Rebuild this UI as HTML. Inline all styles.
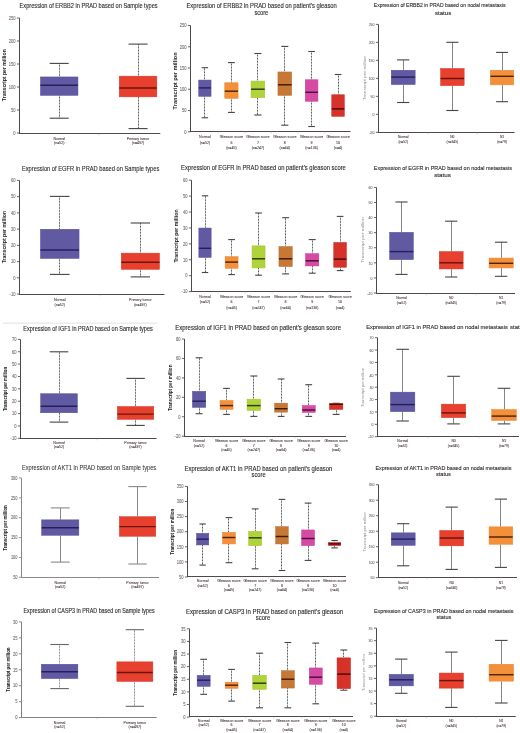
<!DOCTYPE html>
<html><head><meta charset="utf-8"><title>Expression boxplots</title><style>
html,body{margin:0;padding:0;background:#fff;}
#w{position:relative;width:520px;height:733px;overflow:hidden;background:#fff;}
svg{position:absolute;left:0;top:0;filter:blur(0.25px);}
text{font-family:"Liberation Sans", sans-serif;}
.tt{fill:#2a2a2a;stroke:#2a2a2a;stroke-width:0.12px;}
.tm{fill:#303030;stroke:#303030;stroke-width:0.04px;}
.tn{fill:#2e2828;stroke:#2e2828;stroke-width:0.12px;}
.tl{fill:#7a6a70;text-anchor:end;stroke:#7a6a70;stroke-width:0.1px;}
.xl{fill:#4a3a42;text-anchor:middle;stroke:#4a3a42;stroke-width:0.08px;}
.yb{fill:#1a1a1a;font-weight:bold;text-anchor:middle;}
.yr{fill:#333;text-anchor:middle;stroke:#333;stroke-width:0.1px;}
.yn{fill:#9a9090;text-anchor:middle;}
.ax{stroke:#4a4a4a;stroke-width:1.05;}
.tk{stroke:#555;stroke-width:0.9;}
.sep{stroke:#aaa;stroke-width:0.5;}
.wh{stroke:#3a3a3a;stroke-width:1;stroke-dasharray:0.8 0.7;}
.ws{stroke:#666;stroke-width:0.8;}
.cap{stroke:#444;stroke-width:1.1;}
.bx{stroke-width:0.5;}
.md{stroke-width:1.45;}
.lite .ax{stroke:#8a8a8a;stroke-width:1;} .lite .tk{stroke:#8a8a8a;} .lite .cap{stroke:#8a8a8a;} .lite .ws{stroke:#555;stroke-width:0.7;}
.lite2 .ax{stroke:#808080;stroke-width:1;} .lite2 .tk{stroke:#808080;} .lite2 .cap{stroke:#666;} .lite2 .wh{stroke:#555;stroke-width:0.8;}
</style></head>
<body><div id="w"><svg width="520" height="733" viewBox="0 0 520 733">
<line x1="3" y1="323.1" x2="157" y2="323.1" stroke="#d4d4d4" stroke-width="0.7"/>
<g class=""><text x="19.6" y="8.4" class="tt" style="font-size:7.7px" textLength="138.0" lengthAdjust="spacingAndGlyphs">Expression of ERBB2 in PRAD based on Sample types</text>
<line x1="19.5" y1="18.0" x2="19.5" y2="134.0" class="ax"/>
<line x1="16.9" y1="18.0" x2="19.5" y2="18.0" class="tk"/>
<text transform="translate(15.50,19.75) scale(0.82 1)" class="tl" style="font-size:5.0px">250</text>
<line x1="16.9" y1="41.0" x2="19.5" y2="41.0" class="tk"/>
<text transform="translate(15.50,42.75) scale(0.82 1)" class="tl" style="font-size:5.0px">200</text>
<line x1="16.9" y1="64.0" x2="19.5" y2="64.0" class="tk"/>
<text transform="translate(15.50,65.75) scale(0.82 1)" class="tl" style="font-size:5.0px">150</text>
<line x1="16.9" y1="87.0" x2="19.5" y2="87.0" class="tk"/>
<text transform="translate(15.50,88.75) scale(0.82 1)" class="tl" style="font-size:5.0px">100</text>
<line x1="16.9" y1="110.0" x2="19.5" y2="110.0" class="tk"/>
<text transform="translate(15.50,111.75) scale(0.82 1)" class="tl" style="font-size:5.0px">50</text>
<line x1="16.9" y1="133.0" x2="19.5" y2="133.0" class="tk"/>
<text transform="translate(15.50,134.75) scale(0.82 1)" class="tl" style="font-size:5.0px">0</text>
<line x1="19.0" y1="133.5" x2="160.3" y2="133.5" class="ax"/>
<line x1="98.62" y1="133.5" x2="98.62" y2="135.3" class="sep"/>
<line x1="59.50" y1="63.40" x2="59.50" y2="76.70" class="wh"/>
<line x1="49.70" y1="63.40" x2="68.70" y2="63.40" class="cap"/>
<line x1="59.50" y1="95.60" x2="59.50" y2="118.20" class="wh"/>
<line x1="49.70" y1="118.20" x2="68.70" y2="118.20" class="cap"/>
<rect x="40.45" y="76.95" width="37.50" height="18.40" fill="#615aa2" stroke="#554d9c" class="bx"/>
<line x1="40.50" y1="85.30" x2="77.90" y2="85.30" stroke="#261f5e" class="md"/>
<line x1="138.50" y1="44.10" x2="138.50" y2="75.90" class="wh"/>
<line x1="128.53" y1="44.10" x2="147.58" y2="44.10" class="cap"/>
<line x1="138.50" y1="97.10" x2="138.50" y2="128.60" class="wh"/>
<line x1="128.53" y1="128.60" x2="147.58" y2="128.60" class="cap"/>
<rect x="119.25" y="76.15" width="37.60" height="20.70" fill="#e8402e" stroke="#d8382a" class="bx"/>
<line x1="119.30" y1="87.90" x2="156.80" y2="87.90" stroke="#6a140c" class="md"/>
<text x="59.20" y="139.50" class="xl" style="font-size:3.6px">Normal</text>
<text x="59.20" y="144.40" class="xl" style="font-size:3.6px">(n=52)</text>
<text x="138.05" y="139.50" class="xl" style="font-size:3.6px">Primary tumor</text>
<text x="138.05" y="144.40" class="xl" style="font-size:3.6px">(n=497)</text>
<text transform="translate(5.7,75.2) rotate(-90)" x="0" y="0" class="yb" style="font-size:5.3px" textLength="52" lengthAdjust="spacingAndGlyphs">Transcript per million</text></g>
<g class=""><text x="186.5" y="7.7" class="tt" style="font-size:7.1px" textLength="150.3" lengthAdjust="spacingAndGlyphs">Expression of ERBB2 in PRAD based on patient's gleason</text>
<text x="254.4" y="15.3" class="tt" style="font-size:7.1px" textLength="13.9" lengthAdjust="spacingAndGlyphs">score</text>
<line x1="190.5" y1="25.5" x2="190.5" y2="132.0" class="ax"/>
<line x1="187.9" y1="25.5" x2="190.5" y2="25.5" class="tk"/>
<text transform="translate(186.50,27.25) scale(0.82 1)" class="tl" style="font-size:5.0px">250</text>
<line x1="187.9" y1="46.76" x2="190.5" y2="46.76" class="tk"/>
<text transform="translate(186.50,48.51) scale(0.82 1)" class="tl" style="font-size:5.0px">200</text>
<line x1="187.9" y1="68.02" x2="190.5" y2="68.02" class="tk"/>
<text transform="translate(186.50,69.77) scale(0.82 1)" class="tl" style="font-size:5.0px">150</text>
<line x1="187.9" y1="89.28" x2="190.5" y2="89.28" class="tk"/>
<text transform="translate(186.50,91.03) scale(0.82 1)" class="tl" style="font-size:5.0px">100</text>
<line x1="187.9" y1="110.54" x2="190.5" y2="110.54" class="tk"/>
<text transform="translate(186.50,112.29) scale(0.82 1)" class="tl" style="font-size:5.0px">50</text>
<line x1="187.9" y1="131.8" x2="190.5" y2="131.8" class="tk"/>
<text transform="translate(186.50,133.55) scale(0.82 1)" class="tl" style="font-size:5.0px">0</text>
<line x1="190.0" y1="131.5" x2="350.6" y2="131.5" class="ax"/>
<line x1="218.15" y1="131.5" x2="218.15" y2="133.3" class="sep"/>
<line x1="244.65" y1="131.5" x2="244.65" y2="133.3" class="sep"/>
<line x1="271.35" y1="131.5" x2="271.35" y2="133.3" class="sep"/>
<line x1="298.20" y1="131.5" x2="298.20" y2="133.3" class="sep"/>
<line x1="324.83" y1="131.5" x2="324.83" y2="133.3" class="sep"/>
<line x1="204.50" y1="67.70" x2="204.50" y2="79.80" class="wh"/>
<line x1="201.70" y1="67.70" x2="208.10" y2="67.70" class="cap"/>
<line x1="204.50" y1="96.60" x2="204.50" y2="117.80" class="wh"/>
<line x1="201.70" y1="117.80" x2="208.10" y2="117.80" class="cap"/>
<rect x="198.75" y="80.05" width="12.30" height="16.30" fill="#615aa2" stroke="#554d9c" class="bx"/>
<line x1="198.80" y1="87.90" x2="211.00" y2="87.90" stroke="#261f5e" class="md"/>
<line x1="231.50" y1="62.60" x2="231.50" y2="82.50" class="wh"/>
<line x1="227.95" y1="62.60" x2="234.85" y2="62.60" class="cap"/>
<line x1="231.50" y1="98.60" x2="231.50" y2="112.40" class="wh"/>
<line x1="227.95" y1="112.40" x2="234.85" y2="112.40" class="cap"/>
<rect x="224.75" y="82.75" width="13.30" height="15.60" fill="#f5903a" stroke="#e88430" class="bx"/>
<line x1="224.80" y1="91.20" x2="238.00" y2="91.20" stroke="#4a2508" class="md"/>
<line x1="257.50" y1="53.50" x2="257.50" y2="80.80" class="wh"/>
<line x1="254.35" y1="53.50" x2="261.45" y2="53.50" class="cap"/>
<line x1="257.50" y1="98.00" x2="257.50" y2="115.00" class="wh"/>
<line x1="254.35" y1="115.00" x2="261.45" y2="115.00" class="cap"/>
<rect x="251.05" y="81.05" width="13.70" height="16.70" fill="#b0d33a" stroke="#a2c430" class="bx"/>
<line x1="251.10" y1="89.20" x2="264.70" y2="89.20" stroke="#2c3a08" class="md"/>
<line x1="284.50" y1="46.40" x2="284.50" y2="71.70" class="wh"/>
<line x1="281.25" y1="46.40" x2="288.35" y2="46.40" class="cap"/>
<line x1="284.50" y1="95.60" x2="284.50" y2="125.20" class="wh"/>
<line x1="281.25" y1="125.20" x2="288.35" y2="125.20" class="cap"/>
<rect x="277.95" y="71.95" width="13.70" height="23.40" fill="#c77835" stroke="#b86c2c" class="bx"/>
<line x1="278.00" y1="84.80" x2="291.60" y2="84.80" stroke="#3a1c08" class="md"/>
<line x1="311.50" y1="51.50" x2="311.50" y2="79.50" class="wh"/>
<line x1="308.30" y1="51.50" x2="314.90" y2="51.50" class="cap"/>
<line x1="311.50" y1="101.50" x2="311.50" y2="126.50" class="wh"/>
<line x1="308.30" y1="126.50" x2="314.90" y2="126.50" class="cap"/>
<rect x="305.25" y="79.75" width="12.70" height="21.50" fill="#d64aa4" stroke="#c8409a" class="bx"/>
<line x1="305.30" y1="92.30" x2="317.90" y2="92.30" stroke="#4a1034" class="md"/>
<line x1="338.50" y1="74.50" x2="338.50" y2="94.50" class="wh"/>
<line x1="334.77" y1="74.50" x2="341.33" y2="74.50" class="cap"/>
<rect x="331.75" y="94.75" width="12.60" height="21.60" fill="#d6322a" stroke="#c82c24" class="bx"/>
<line x1="331.80" y1="108.90" x2="344.30" y2="108.90" stroke="#4a0a08" class="md"/>
<text x="204.90" y="138.00" class="xl" style="font-size:3.6px">Normal</text>
<text x="204.90" y="143.50" class="xl" style="font-size:3.6px">(n=52)</text>
<text x="231.40" y="138.00" class="xl" style="font-size:3.6px">Gleason score</text>
<text x="231.40" y="143.50" class="xl" style="font-size:3.6px">6</text>
<text x="231.40" y="148.70" class="xl" style="font-size:3.6px">(n=45)</text>
<text x="257.90" y="138.00" class="xl" style="font-size:3.6px">Gleason score</text>
<text x="257.90" y="143.50" class="xl" style="font-size:3.6px">7</text>
<text x="257.90" y="148.70" class="xl" style="font-size:3.6px">(n=247)</text>
<text x="284.80" y="138.00" class="xl" style="font-size:3.6px">Gleason score</text>
<text x="284.80" y="143.50" class="xl" style="font-size:3.6px">8</text>
<text x="284.80" y="148.70" class="xl" style="font-size:3.6px">(n=64)</text>
<text x="311.60" y="138.00" class="xl" style="font-size:3.6px">Gleason score</text>
<text x="311.60" y="143.50" class="xl" style="font-size:3.6px">9</text>
<text x="311.60" y="148.70" class="xl" style="font-size:3.6px">(n=136)</text>
<text x="338.05" y="138.00" class="xl" style="font-size:3.6px">Gleason score</text>
<text x="338.05" y="143.50" class="xl" style="font-size:3.6px">10</text>
<text x="338.05" y="148.70" class="xl" style="font-size:3.6px">(n=4)</text>
<text transform="translate(177.3,80.9) rotate(-90)" x="0" y="0" class="yb" style="font-size:5.6px" textLength="57" lengthAdjust="spacingAndGlyphs">Transcript per million</text></g>
<g class=""><text x="373.8" y="6.9" class="tn" style="font-size:6.0px" textLength="131.8" lengthAdjust="spacingAndGlyphs">Expression of ERBB2 in PRAD based on nodal metastasis</text>
<text x="435" y="14.6" class="tn" style="font-size:6.0px" textLength="16.2" lengthAdjust="spacingAndGlyphs">status</text>
<line x1="378.5" y1="24.4" x2="378.5" y2="133.0" class="ax"/>
<line x1="375.9" y1="24.4" x2="378.5" y2="24.4" class="tk"/>
<text transform="translate(374.50,26.15) scale(0.82 1)" class="tl" style="font-size:4.3px">250</text>
<line x1="375.9" y1="42.38" x2="378.5" y2="42.38" class="tk"/>
<text transform="translate(374.50,44.13) scale(0.82 1)" class="tl" style="font-size:4.3px">200</text>
<line x1="375.9" y1="60.37" x2="378.5" y2="60.37" class="tk"/>
<text transform="translate(374.50,62.12) scale(0.82 1)" class="tl" style="font-size:4.3px">150</text>
<line x1="375.9" y1="78.35" x2="378.5" y2="78.35" class="tk"/>
<text transform="translate(374.50,80.10) scale(0.82 1)" class="tl" style="font-size:4.3px">100</text>
<line x1="375.9" y1="96.33" x2="378.5" y2="96.33" class="tk"/>
<text transform="translate(374.50,98.08) scale(0.82 1)" class="tl" style="font-size:4.3px">50</text>
<line x1="375.9" y1="114.32" x2="378.5" y2="114.32" class="tk"/>
<text transform="translate(374.50,116.07) scale(0.82 1)" class="tl" style="font-size:4.3px">0</text>
<line x1="375.9" y1="132.3" x2="378.5" y2="132.3" class="tk"/>
<text transform="translate(374.50,134.05) scale(0.82 1)" class="tl" style="font-size:4.3px">-50</text>
<line x1="378.0" y1="132.5" x2="514.5" y2="132.5" class="ax"/>
<line x1="427.77" y1="132.5" x2="427.77" y2="134.3" class="sep"/>
<line x1="477.20" y1="132.5" x2="477.20" y2="134.3" class="sep"/>
<line x1="403.50" y1="59.90" x2="403.50" y2="70.00" class="ws"/>
<line x1="397.10" y1="59.90" x2="409.30" y2="59.90" class="cap"/>
<line x1="403.50" y1="84.80" x2="403.50" y2="102.50" class="ws"/>
<line x1="397.10" y1="102.50" x2="409.30" y2="102.50" class="cap"/>
<rect x="391.25" y="70.25" width="23.90" height="14.30" fill="#615aa2" stroke="#554d9c" class="bx"/>
<line x1="391.30" y1="77.10" x2="415.10" y2="77.10" stroke="#261f5e" class="md"/>
<line x1="452.50" y1="42.30" x2="452.50" y2="68.20" class="ws"/>
<line x1="446.33" y1="42.30" x2="458.38" y2="42.30" class="cap"/>
<line x1="452.50" y1="85.90" x2="452.50" y2="110.50" class="ws"/>
<line x1="446.33" y1="110.50" x2="458.38" y2="110.50" class="cap"/>
<rect x="440.55" y="68.45" width="23.60" height="17.20" fill="#e8402e" stroke="#d8382a" class="bx"/>
<line x1="440.60" y1="78.50" x2="464.10" y2="78.50" stroke="#6a140c" class="md"/>
<line x1="502.50" y1="52.40" x2="502.50" y2="70.00" class="ws"/>
<line x1="496.08" y1="52.40" x2="508.02" y2="52.40" class="cap"/>
<line x1="502.50" y1="85.10" x2="502.50" y2="101.70" class="ws"/>
<line x1="496.08" y1="101.70" x2="508.02" y2="101.70" class="cap"/>
<rect x="490.35" y="70.25" width="23.40" height="14.60" fill="#f5903a" stroke="#e88430" class="bx"/>
<line x1="490.40" y1="76.30" x2="513.70" y2="76.30" stroke="#4a2508" class="md"/>
<text x="403.20" y="137.90" class="xl" style="font-size:3.3px">Normal</text>
<text x="403.20" y="143.10" class="xl" style="font-size:3.3px">(n=52)</text>
<text x="452.35" y="137.90" class="xl" style="font-size:3.3px">N0</text>
<text x="452.35" y="143.10" class="xl" style="font-size:3.3px">(n=345)</text>
<text x="502.05" y="137.90" class="xl" style="font-size:3.3px">N1</text>
<text x="502.05" y="143.10" class="xl" style="font-size:3.3px">(n=79)</text>
<text transform="translate(366,78.1) rotate(-90)" x="0" y="0" class="yn" style="font-size:4.2px" textLength="44.4" lengthAdjust="spacingAndGlyphs">Transcript per million</text></g>
<g class=""><text x="21.9" y="170.6" class="tt" style="font-size:7.7px" textLength="137.4" lengthAdjust="spacingAndGlyphs">Expression of EGFR in PRAD based on Sample types</text>
<line x1="19.5" y1="180.4" x2="19.5" y2="295.0" class="ax"/>
<line x1="16.9" y1="180.4" x2="19.5" y2="180.4" class="tk"/>
<text transform="translate(15.50,182.15) scale(0.82 1)" class="tl" style="font-size:5.0px">60</text>
<line x1="16.9" y1="196.64" x2="19.5" y2="196.64" class="tk"/>
<text transform="translate(15.50,198.39) scale(0.82 1)" class="tl" style="font-size:5.0px">50</text>
<line x1="16.9" y1="212.89" x2="19.5" y2="212.89" class="tk"/>
<text transform="translate(15.50,214.64) scale(0.82 1)" class="tl" style="font-size:5.0px">40</text>
<line x1="16.9" y1="229.13" x2="19.5" y2="229.13" class="tk"/>
<text transform="translate(15.50,230.88) scale(0.82 1)" class="tl" style="font-size:5.0px">30</text>
<line x1="16.9" y1="245.37" x2="19.5" y2="245.37" class="tk"/>
<text transform="translate(15.50,247.12) scale(0.82 1)" class="tl" style="font-size:5.0px">20</text>
<line x1="16.9" y1="261.61" x2="19.5" y2="261.61" class="tk"/>
<text transform="translate(15.50,263.36) scale(0.82 1)" class="tl" style="font-size:5.0px">10</text>
<line x1="16.9" y1="277.86" x2="19.5" y2="277.86" class="tk"/>
<text transform="translate(15.50,279.61) scale(0.82 1)" class="tl" style="font-size:5.0px">0</text>
<line x1="16.9" y1="294.1" x2="19.5" y2="294.1" class="tk"/>
<text transform="translate(15.50,295.85) scale(0.82 1)" class="tl" style="font-size:5.0px">-10</text>
<line x1="19.0" y1="294.5" x2="164.4" y2="294.5" class="ax"/>
<line x1="100.06" y1="294.5" x2="100.06" y2="296.3" class="sep"/>
<line x1="59.50" y1="196.40" x2="59.50" y2="229.00" class="wh"/>
<line x1="49.98" y1="196.40" x2="69.53" y2="196.40" class="cap"/>
<line x1="59.50" y1="258.70" x2="59.50" y2="274.40" class="wh"/>
<line x1="49.98" y1="274.40" x2="69.53" y2="274.40" class="cap"/>
<rect x="40.45" y="229.25" width="38.60" height="29.20" fill="#615aa2" stroke="#554d9c" class="bx"/>
<line x1="40.50" y1="249.90" x2="79.00" y2="249.90" stroke="#261f5e" class="md"/>
<line x1="140.50" y1="223.00" x2="140.50" y2="252.90" class="wh"/>
<line x1="130.69" y1="223.00" x2="150.06" y2="223.00" class="cap"/>
<line x1="140.50" y1="269.60" x2="140.50" y2="276.90" class="wh"/>
<line x1="130.69" y1="276.90" x2="150.06" y2="276.90" class="cap"/>
<rect x="121.25" y="253.15" width="38.25" height="16.20" fill="#e8402e" stroke="#d8382a" class="bx"/>
<line x1="121.30" y1="262.25" x2="159.45" y2="262.25" stroke="#6a140c" class="md"/>
<text x="59.75" y="301.00" class="xl" style="font-size:3.6px">Normal</text>
<text x="59.75" y="305.60" class="xl" style="font-size:3.6px">(n=52)</text>
<text x="140.38" y="301.00" class="xl" style="font-size:3.6px">Primary tumor</text>
<text x="140.38" y="305.60" class="xl" style="font-size:3.6px">(n=497)</text>
<text transform="translate(6.0,237.1) rotate(-90)" x="0" y="0" class="yb" style="font-size:5.3px" textLength="52.4" lengthAdjust="spacingAndGlyphs">Transcript per million</text></g>
<g class=""><text x="181.1" y="170.1" class="tt" style="font-size:7.5px" textLength="164.8" lengthAdjust="spacingAndGlyphs">Expression of EGFR in PRAD based on patient's gleason score</text>
<line x1="191.5" y1="180.2" x2="191.5" y2="292.0" class="ax"/>
<line x1="188.9" y1="180.2" x2="191.5" y2="180.2" class="tk"/>
<text transform="translate(187.50,181.95) scale(0.82 1)" class="tl" style="font-size:5.0px">60</text>
<line x1="188.9" y1="196.11" x2="191.5" y2="196.11" class="tk"/>
<text transform="translate(187.50,197.86) scale(0.82 1)" class="tl" style="font-size:5.0px">50</text>
<line x1="188.9" y1="212.03" x2="191.5" y2="212.03" class="tk"/>
<text transform="translate(187.50,213.78) scale(0.82 1)" class="tl" style="font-size:5.0px">40</text>
<line x1="188.9" y1="227.94" x2="191.5" y2="227.94" class="tk"/>
<text transform="translate(187.50,229.69) scale(0.82 1)" class="tl" style="font-size:5.0px">30</text>
<line x1="188.9" y1="243.86" x2="191.5" y2="243.86" class="tk"/>
<text transform="translate(187.50,245.61) scale(0.82 1)" class="tl" style="font-size:5.0px">20</text>
<line x1="188.9" y1="259.77" x2="191.5" y2="259.77" class="tk"/>
<text transform="translate(187.50,261.52) scale(0.82 1)" class="tl" style="font-size:5.0px">10</text>
<line x1="188.9" y1="275.69" x2="191.5" y2="275.69" class="tk"/>
<text transform="translate(187.50,277.44) scale(0.82 1)" class="tl" style="font-size:5.0px">0</text>
<line x1="188.9" y1="291.6" x2="191.5" y2="291.6" class="tk"/>
<text transform="translate(187.50,293.35) scale(0.82 1)" class="tl" style="font-size:5.0px">-10</text>
<line x1="191.0" y1="291.5" x2="350.8" y2="291.5" class="ax"/>
<line x1="218.30" y1="291.5" x2="218.30" y2="293.3" class="sep"/>
<line x1="245.08" y1="291.5" x2="245.08" y2="293.3" class="sep"/>
<line x1="272.08" y1="291.5" x2="272.08" y2="293.3" class="sep"/>
<line x1="298.90" y1="291.5" x2="298.90" y2="293.3" class="sep"/>
<line x1="326.15" y1="291.5" x2="326.15" y2="293.3" class="sep"/>
<line x1="205.50" y1="195.80" x2="205.50" y2="227.80" class="wh"/>
<line x1="201.80" y1="195.80" x2="208.20" y2="195.80" class="cap"/>
<line x1="205.50" y1="257.70" x2="205.50" y2="272.50" class="wh"/>
<line x1="201.80" y1="272.50" x2="208.20" y2="272.50" class="cap"/>
<rect x="198.85" y="228.05" width="12.30" height="29.40" fill="#615aa2" stroke="#554d9c" class="bx"/>
<line x1="198.90" y1="248.30" x2="211.10" y2="248.30" stroke="#261f5e" class="md"/>
<line x1="231.50" y1="239.60" x2="231.50" y2="256.40" class="wh"/>
<line x1="228.25" y1="239.60" x2="234.95" y2="239.60" class="cap"/>
<line x1="231.50" y1="268.50" x2="231.50" y2="274.60" class="wh"/>
<line x1="228.25" y1="274.60" x2="234.95" y2="274.60" class="cap"/>
<rect x="225.15" y="256.65" width="12.90" height="11.60" fill="#f5903a" stroke="#e88430" class="bx"/>
<line x1="225.20" y1="262.10" x2="238.00" y2="262.10" stroke="#4a2508" class="md"/>
<line x1="258.50" y1="213.00" x2="258.50" y2="245.60" class="wh"/>
<line x1="255.18" y1="213.00" x2="261.93" y2="213.00" class="cap"/>
<line x1="258.50" y1="268.20" x2="258.50" y2="275.20" class="wh"/>
<line x1="255.18" y1="275.20" x2="261.93" y2="275.20" class="cap"/>
<rect x="252.05" y="245.85" width="13.00" height="22.10" fill="#b0d33a" stroke="#a2c430" class="bx"/>
<line x1="252.10" y1="258.80" x2="265.00" y2="258.80" stroke="#2c3a08" class="md"/>
<line x1="285.50" y1="217.70" x2="285.50" y2="246.30" class="wh"/>
<line x1="282.15" y1="217.70" x2="289.05" y2="217.70" class="cap"/>
<line x1="285.50" y1="266.80" x2="285.50" y2="273.90" class="wh"/>
<line x1="282.15" y1="273.90" x2="289.05" y2="273.90" class="cap"/>
<rect x="278.95" y="246.55" width="13.30" height="20.00" fill="#c77835" stroke="#b86c2c" class="bx"/>
<line x1="279.00" y1="258.80" x2="292.20" y2="258.80" stroke="#3a1c08" class="md"/>
<line x1="312.50" y1="239.60" x2="312.50" y2="253.40" class="wh"/>
<line x1="308.75" y1="239.60" x2="315.65" y2="239.60" class="cap"/>
<line x1="312.50" y1="266.20" x2="312.50" y2="273.20" class="wh"/>
<line x1="308.75" y1="273.20" x2="315.65" y2="273.20" class="cap"/>
<rect x="305.55" y="253.65" width="13.30" height="12.30" fill="#d64aa4" stroke="#c8409a" class="bx"/>
<line x1="305.60" y1="260.80" x2="318.80" y2="260.80" stroke="#4a1034" class="md"/>
<line x1="340.50" y1="216.40" x2="340.50" y2="242.20" class="wh"/>
<line x1="336.80" y1="216.40" x2="343.40" y2="216.40" class="cap"/>
<line x1="340.50" y1="267.50" x2="340.50" y2="270.60" class="wh"/>
<line x1="336.80" y1="270.60" x2="343.40" y2="270.60" class="cap"/>
<rect x="333.75" y="242.45" width="12.70" height="24.80" fill="#d6322a" stroke="#c82c24" class="bx"/>
<line x1="333.80" y1="259.10" x2="346.40" y2="259.10" stroke="#4a0a08" class="md"/>
<text x="205.00" y="298.20" class="xl" style="font-size:3.6px">Normal</text>
<text x="205.00" y="303.40" class="xl" style="font-size:3.6px">(n=52)</text>
<text x="231.60" y="298.20" class="xl" style="font-size:3.6px">Gleason score</text>
<text x="231.60" y="303.40" class="xl" style="font-size:3.6px">6</text>
<text x="231.60" y="308.50" class="xl" style="font-size:3.6px">(n=45)</text>
<text x="258.55" y="298.20" class="xl" style="font-size:3.6px">Gleason score</text>
<text x="258.55" y="303.40" class="xl" style="font-size:3.6px">7</text>
<text x="258.55" y="308.50" class="xl" style="font-size:3.6px">(n=247)</text>
<text x="285.60" y="298.20" class="xl" style="font-size:3.6px">Gleason score</text>
<text x="285.60" y="303.40" class="xl" style="font-size:3.6px">8</text>
<text x="285.60" y="308.50" class="xl" style="font-size:3.6px">(n=64)</text>
<text x="312.20" y="298.20" class="xl" style="font-size:3.6px">Gleason score</text>
<text x="312.20" y="303.40" class="xl" style="font-size:3.6px">9</text>
<text x="312.20" y="308.50" class="xl" style="font-size:3.6px">(n=136)</text>
<text x="340.10" y="298.20" class="xl" style="font-size:3.6px">Gleason score</text>
<text x="340.10" y="303.40" class="xl" style="font-size:3.6px">10</text>
<text x="340.10" y="308.50" class="xl" style="font-size:3.6px">(n=4)</text>
<text transform="translate(178.3,236) rotate(-90)" x="0" y="0" class="yb" style="font-size:5.4px" textLength="53.2" lengthAdjust="spacingAndGlyphs">Transcript per million</text></g>
<g class=""><text x="373.8" y="169.6" class="tn" style="font-size:6.2px" textLength="138.2" lengthAdjust="spacingAndGlyphs">Expression of EGFR in PRAD based on nodal metastasis</text>
<text x="434.2" y="177.2" class="tn" style="font-size:6.2px" textLength="16.7" lengthAdjust="spacingAndGlyphs">status</text>
<line x1="376.5" y1="187.4" x2="376.5" y2="294.0" class="ax"/>
<line x1="373.9" y1="187.4" x2="376.5" y2="187.4" class="tk"/>
<text transform="translate(372.50,189.15) scale(0.82 1)" class="tl" style="font-size:4.3px">60</text>
<line x1="373.9" y1="202.49" x2="376.5" y2="202.49" class="tk"/>
<text transform="translate(372.50,204.24) scale(0.82 1)" class="tl" style="font-size:4.3px">50</text>
<line x1="373.9" y1="217.57" x2="376.5" y2="217.57" class="tk"/>
<text transform="translate(372.50,219.32) scale(0.82 1)" class="tl" style="font-size:4.3px">40</text>
<line x1="373.9" y1="232.66" x2="376.5" y2="232.66" class="tk"/>
<text transform="translate(372.50,234.41) scale(0.82 1)" class="tl" style="font-size:4.3px">30</text>
<line x1="373.9" y1="247.74" x2="376.5" y2="247.74" class="tk"/>
<text transform="translate(372.50,249.49) scale(0.82 1)" class="tl" style="font-size:4.3px">20</text>
<line x1="373.9" y1="262.83" x2="376.5" y2="262.83" class="tk"/>
<text transform="translate(372.50,264.58) scale(0.82 1)" class="tl" style="font-size:4.3px">10</text>
<line x1="373.9" y1="277.91" x2="376.5" y2="277.91" class="tk"/>
<text transform="translate(372.50,279.66) scale(0.82 1)" class="tl" style="font-size:4.3px">0</text>
<line x1="373.9" y1="293.0" x2="376.5" y2="293.0" class="tk"/>
<text transform="translate(372.50,294.75) scale(0.82 1)" class="tl" style="font-size:4.3px">-10</text>
<line x1="376.0" y1="293.5" x2="515" y2="293.5" class="ax"/>
<line x1="426.35" y1="293.5" x2="426.35" y2="295.3" class="sep"/>
<line x1="476.17" y1="293.5" x2="476.17" y2="295.3" class="sep"/>
<line x1="401.50" y1="202.00" x2="401.50" y2="232.10" class="ws"/>
<line x1="395.45" y1="202.00" x2="407.55" y2="202.00" class="cap"/>
<line x1="401.50" y1="259.90" x2="401.50" y2="274.40" class="ws"/>
<line x1="395.45" y1="274.40" x2="407.55" y2="274.40" class="cap"/>
<rect x="389.65" y="232.35" width="23.70" height="27.30" fill="#615aa2" stroke="#554d9c" class="bx"/>
<line x1="389.70" y1="251.60" x2="413.30" y2="251.60" stroke="#261f5e" class="md"/>
<line x1="451.50" y1="221.20" x2="451.50" y2="251.30" class="ws"/>
<line x1="445.10" y1="221.20" x2="457.30" y2="221.20" class="cap"/>
<line x1="451.50" y1="269.20" x2="451.50" y2="277.00" class="ws"/>
<line x1="445.10" y1="277.00" x2="457.30" y2="277.00" class="cap"/>
<rect x="439.25" y="251.55" width="23.90" height="17.40" fill="#e8402e" stroke="#d8382a" class="bx"/>
<line x1="439.30" y1="262.80" x2="463.10" y2="262.80" stroke="#6a140c" class="md"/>
<line x1="501.50" y1="242.20" x2="501.50" y2="257.80" class="ws"/>
<line x1="494.97" y1="242.20" x2="507.32" y2="242.20" class="cap"/>
<line x1="501.50" y1="268.20" x2="501.50" y2="276.30" class="ws"/>
<line x1="494.97" y1="276.30" x2="507.32" y2="276.30" class="cap"/>
<rect x="489.05" y="258.05" width="24.20" height="9.90" fill="#f5903a" stroke="#e88430" class="bx"/>
<line x1="489.10" y1="263.30" x2="513.20" y2="263.30" stroke="#4a2508" class="md"/>
<text x="401.50" y="298.70" class="xl" style="font-size:3.3px">Normal</text>
<text x="401.50" y="303.80" class="xl" style="font-size:3.3px">(n=52)</text>
<text x="451.20" y="298.70" class="xl" style="font-size:3.3px">N0</text>
<text x="451.20" y="303.80" class="xl" style="font-size:3.3px">(n=345)</text>
<text x="501.15" y="298.70" class="xl" style="font-size:3.3px">N1</text>
<text x="501.15" y="303.80" class="xl" style="font-size:3.3px">(n=79)</text>
<text transform="translate(364.3,240) rotate(-90)" x="0" y="0" class="yn" style="font-size:4.2px" textLength="45.4" lengthAdjust="spacingAndGlyphs">Transcript per million</text></g>
<g class=""><text x="23.3" y="330.9" class="tt" style="font-size:6.8px" textLength="129.5" lengthAdjust="spacingAndGlyphs">Expression of IGF1 in PRAD based on Sample types</text>
<line x1="20.5" y1="339.4" x2="20.5" y2="439.0" class="ax"/>
<line x1="17.9" y1="339.4" x2="20.5" y2="339.4" class="tk"/>
<text transform="translate(16.50,341.15) scale(0.82 1)" class="tl" style="font-size:5.0px">70</text>
<line x1="17.9" y1="351.76" x2="20.5" y2="351.76" class="tk"/>
<text transform="translate(16.50,353.51) scale(0.82 1)" class="tl" style="font-size:5.0px">60</text>
<line x1="17.9" y1="364.12" x2="20.5" y2="364.12" class="tk"/>
<text transform="translate(16.50,365.87) scale(0.82 1)" class="tl" style="font-size:5.0px">50</text>
<line x1="17.9" y1="376.49" x2="20.5" y2="376.49" class="tk"/>
<text transform="translate(16.50,378.24) scale(0.82 1)" class="tl" style="font-size:5.0px">40</text>
<line x1="17.9" y1="388.85" x2="20.5" y2="388.85" class="tk"/>
<text transform="translate(16.50,390.60) scale(0.82 1)" class="tl" style="font-size:5.0px">30</text>
<line x1="17.9" y1="401.21" x2="20.5" y2="401.21" class="tk"/>
<text transform="translate(16.50,402.96) scale(0.82 1)" class="tl" style="font-size:5.0px">20</text>
<line x1="17.9" y1="413.57" x2="20.5" y2="413.57" class="tk"/>
<text transform="translate(16.50,415.32) scale(0.82 1)" class="tl" style="font-size:5.0px">10</text>
<line x1="17.9" y1="425.94" x2="20.5" y2="425.94" class="tk"/>
<text transform="translate(16.50,427.69) scale(0.82 1)" class="tl" style="font-size:5.0px">0</text>
<line x1="17.9" y1="438.3" x2="20.5" y2="438.3" class="tk"/>
<text transform="translate(16.50,440.05) scale(0.82 1)" class="tl" style="font-size:5.0px">-10</text>
<line x1="20.0" y1="438.5" x2="156.6" y2="438.5" class="ax"/>
<line x1="97.28" y1="438.5" x2="97.28" y2="440.3" class="sep"/>
<line x1="59.50" y1="351.80" x2="59.50" y2="393.50" class="wh"/>
<line x1="49.70" y1="351.80" x2="68.30" y2="351.80" class="cap"/>
<line x1="59.50" y1="413.00" x2="59.50" y2="422.10" class="wh"/>
<line x1="49.70" y1="422.10" x2="68.30" y2="422.10" class="cap"/>
<rect x="40.65" y="393.75" width="36.70" height="19.00" fill="#615aa2" stroke="#554d9c" class="bx"/>
<line x1="40.70" y1="406.30" x2="77.30" y2="406.30" stroke="#261f5e" class="md"/>
<line x1="135.50" y1="378.40" x2="135.50" y2="406.25" class="wh"/>
<line x1="126.33" y1="378.40" x2="144.78" y2="378.40" class="cap"/>
<line x1="135.50" y1="419.60" x2="135.50" y2="425.40" class="wh"/>
<line x1="126.33" y1="425.40" x2="144.78" y2="425.40" class="cap"/>
<rect x="117.35" y="406.50" width="36.40" height="12.85" fill="#e8402e" stroke="#d8382a" class="bx"/>
<line x1="117.40" y1="414.10" x2="153.70" y2="414.10" stroke="#6a140c" class="md"/>
<text x="59.00" y="444.10" class="xl" style="font-size:3.6px">Normal</text>
<text x="59.00" y="448.40" class="xl" style="font-size:3.6px">(n=52)</text>
<text x="135.55" y="444.10" class="xl" style="font-size:3.6px">Primary tumor</text>
<text x="135.55" y="448.40" class="xl" style="font-size:3.6px">(n=497)</text>
<text transform="translate(7.1,389) rotate(-90)" x="0" y="0" class="yb" style="font-size:4.5px" textLength="44.2" lengthAdjust="spacingAndGlyphs">Transcript per million</text></g>
<g class=""><text x="175.2" y="329.8" class="tt" style="font-size:7.0px" textLength="165.8" lengthAdjust="spacingAndGlyphs">Expression of IGF1 in PRAD based on patient's gleason score</text>
<line x1="184.5" y1="339.0" x2="184.5" y2="437.0" class="ax"/>
<line x1="181.9" y1="339.0" x2="184.5" y2="339.0" class="tk"/>
<text transform="translate(180.50,340.75) scale(0.82 1)" class="tl" style="font-size:5.0px">80</text>
<line x1="181.9" y1="358.44" x2="184.5" y2="358.44" class="tk"/>
<text transform="translate(180.50,360.19) scale(0.82 1)" class="tl" style="font-size:5.0px">60</text>
<line x1="181.9" y1="377.88" x2="184.5" y2="377.88" class="tk"/>
<text transform="translate(180.50,379.63) scale(0.82 1)" class="tl" style="font-size:5.0px">40</text>
<line x1="181.9" y1="397.32" x2="184.5" y2="397.32" class="tk"/>
<text transform="translate(180.50,399.07) scale(0.82 1)" class="tl" style="font-size:5.0px">20</text>
<line x1="181.9" y1="416.76" x2="184.5" y2="416.76" class="tk"/>
<text transform="translate(180.50,418.51) scale(0.82 1)" class="tl" style="font-size:5.0px">0</text>
<line x1="181.9" y1="436.2" x2="184.5" y2="436.2" class="tk"/>
<text transform="translate(180.50,437.95) scale(0.82 1)" class="tl" style="font-size:5.0px">-20</text>
<line x1="184.0" y1="436.5" x2="346" y2="436.5" class="ax"/>
<line x1="212.82" y1="436.5" x2="212.82" y2="438.3" class="sep"/>
<line x1="240.20" y1="436.5" x2="240.20" y2="438.3" class="sep"/>
<line x1="267.48" y1="436.5" x2="267.48" y2="438.3" class="sep"/>
<line x1="294.93" y1="436.5" x2="294.93" y2="438.3" class="sep"/>
<line x1="322.45" y1="436.5" x2="322.45" y2="438.3" class="sep"/>
<line x1="199.50" y1="357.80" x2="199.50" y2="391.10" class="wh"/>
<line x1="195.65" y1="357.80" x2="202.55" y2="357.80" class="cap"/>
<line x1="199.50" y1="407.60" x2="199.50" y2="413.70" class="wh"/>
<line x1="195.65" y1="413.70" x2="202.55" y2="413.70" class="cap"/>
<rect x="192.45" y="391.35" width="13.30" height="16.00" fill="#615aa2" stroke="#554d9c" class="bx"/>
<line x1="192.50" y1="401.20" x2="205.70" y2="401.20" stroke="#261f5e" class="md"/>
<line x1="226.50" y1="388.40" x2="226.50" y2="400.20" class="wh"/>
<line x1="223.18" y1="388.40" x2="229.93" y2="388.40" class="cap"/>
<line x1="226.50" y1="409.70" x2="226.50" y2="414.40" class="wh"/>
<line x1="223.18" y1="414.40" x2="229.93" y2="414.40" class="cap"/>
<rect x="220.05" y="400.45" width="13.00" height="9.00" fill="#f5903a" stroke="#e88430" class="bx"/>
<line x1="220.10" y1="405.60" x2="233.00" y2="405.60" stroke="#4a2508" class="md"/>
<line x1="253.50" y1="376.00" x2="253.50" y2="398.90" class="wh"/>
<line x1="250.32" y1="376.00" x2="257.38" y2="376.00" class="cap"/>
<line x1="253.50" y1="410.70" x2="253.50" y2="416.40" class="wh"/>
<line x1="250.32" y1="416.40" x2="257.38" y2="416.40" class="cap"/>
<rect x="247.05" y="399.15" width="13.60" height="11.30" fill="#b0d33a" stroke="#a2c430" class="bx"/>
<line x1="247.10" y1="405.60" x2="260.60" y2="405.60" stroke="#2c3a08" class="md"/>
<line x1="281.50" y1="379.00" x2="281.50" y2="402.90" class="wh"/>
<line x1="277.75" y1="379.00" x2="284.45" y2="379.00" class="cap"/>
<line x1="281.50" y1="412.40" x2="281.50" y2="416.40" class="wh"/>
<line x1="277.75" y1="416.40" x2="284.45" y2="416.40" class="cap"/>
<rect x="274.65" y="403.15" width="12.90" height="9.00" fill="#c77835" stroke="#b86c2c" class="bx"/>
<line x1="274.70" y1="408.70" x2="287.50" y2="408.70" stroke="#3a1c08" class="md"/>
<line x1="308.50" y1="384.70" x2="308.50" y2="405.30" class="wh"/>
<line x1="305.38" y1="384.70" x2="312.12" y2="384.70" class="cap"/>
<line x1="308.50" y1="412.70" x2="308.50" y2="416.40" class="wh"/>
<line x1="305.38" y1="416.40" x2="312.12" y2="416.40" class="cap"/>
<rect x="302.25" y="405.55" width="13.00" height="6.90" fill="#d64aa4" stroke="#c8409a" class="bx"/>
<line x1="302.30" y1="410.00" x2="315.20" y2="410.00" stroke="#4a1034" class="md"/>
<line x1="332.67" y1="403.30" x2="339.62" y2="403.30" class="cap"/>
<line x1="336.50" y1="409.70" x2="336.50" y2="414.40" class="wh"/>
<line x1="332.67" y1="414.40" x2="339.62" y2="414.40" class="cap"/>
<rect x="329.45" y="403.55" width="13.40" height="5.90" fill="#d6322a" stroke="#c82c24" class="bx"/>
<line x1="329.50" y1="404.30" x2="342.80" y2="404.30" stroke="#4a0a08" class="md"/>
<text x="199.10" y="441.90" class="xl" style="font-size:3.6px">Normal</text>
<text x="199.10" y="446.80" class="xl" style="font-size:3.6px">(n=52)</text>
<text x="226.55" y="441.90" class="xl" style="font-size:3.6px">Gleason score</text>
<text x="226.55" y="446.80" class="xl" style="font-size:3.6px">6</text>
<text x="226.55" y="451.10" class="xl" style="font-size:3.6px">(n=45)</text>
<text x="253.85" y="441.90" class="xl" style="font-size:3.6px">Gleason score</text>
<text x="253.85" y="446.80" class="xl" style="font-size:3.6px">7</text>
<text x="253.85" y="451.10" class="xl" style="font-size:3.6px">(n=247)</text>
<text x="281.10" y="441.90" class="xl" style="font-size:3.6px">Gleason score</text>
<text x="281.10" y="446.80" class="xl" style="font-size:3.6px">8</text>
<text x="281.10" y="451.10" class="xl" style="font-size:3.6px">(n=64)</text>
<text x="308.75" y="441.90" class="xl" style="font-size:3.6px">Gleason score</text>
<text x="308.75" y="446.80" class="xl" style="font-size:3.6px">9</text>
<text x="308.75" y="451.10" class="xl" style="font-size:3.6px">(n=136)</text>
<text x="336.15" y="441.90" class="xl" style="font-size:3.6px">Gleason score</text>
<text x="336.15" y="446.80" class="xl" style="font-size:3.6px">10</text>
<text x="336.15" y="451.10" class="xl" style="font-size:3.6px">(n=4)</text>
<text transform="translate(171.8,387.8) rotate(-90)" x="0" y="0" class="yb" style="font-size:4.7px" textLength="46.5" lengthAdjust="spacingAndGlyphs">Transcript per million</text></g>
<g class=""><text x="366.2" y="328.8" class="tn" style="font-size:6.2px" textLength="141.6" lengthAdjust="spacingAndGlyphs">Expression of IGF1 in PRAD based on nodal metastasis</text>
<text x="510" y="328.8" class="tn" style="font-size:6.2px" textLength="16.0" lengthAdjust="spacingAndGlyphs">status</text>
<line x1="377.5" y1="337.7" x2="377.5" y2="437.0" class="ax"/>
<line x1="374.9" y1="337.7" x2="377.5" y2="337.7" class="tk"/>
<text transform="translate(373.50,339.45) scale(0.82 1)" class="tl" style="font-size:4.3px">70</text>
<line x1="374.9" y1="350.07" x2="377.5" y2="350.07" class="tk"/>
<text transform="translate(373.50,351.82) scale(0.82 1)" class="tl" style="font-size:4.3px">60</text>
<line x1="374.9" y1="362.45" x2="377.5" y2="362.45" class="tk"/>
<text transform="translate(373.50,364.20) scale(0.82 1)" class="tl" style="font-size:4.3px">50</text>
<line x1="374.9" y1="374.82" x2="377.5" y2="374.82" class="tk"/>
<text transform="translate(373.50,376.57) scale(0.82 1)" class="tl" style="font-size:4.3px">40</text>
<line x1="374.9" y1="387.2" x2="377.5" y2="387.2" class="tk"/>
<text transform="translate(373.50,388.95) scale(0.82 1)" class="tl" style="font-size:4.3px">30</text>
<line x1="374.9" y1="399.57" x2="377.5" y2="399.57" class="tk"/>
<text transform="translate(373.50,401.32) scale(0.82 1)" class="tl" style="font-size:4.3px">20</text>
<line x1="374.9" y1="411.95" x2="377.5" y2="411.95" class="tk"/>
<text transform="translate(373.50,413.70) scale(0.82 1)" class="tl" style="font-size:4.3px">10</text>
<line x1="374.9" y1="424.32" x2="377.5" y2="424.32" class="tk"/>
<text transform="translate(373.50,426.07) scale(0.82 1)" class="tl" style="font-size:4.3px">0</text>
<line x1="374.9" y1="436.7" x2="377.5" y2="436.7" class="tk"/>
<text transform="translate(373.50,438.45) scale(0.82 1)" class="tl" style="font-size:4.3px">-10</text>
<line x1="377.0" y1="436.5" x2="519" y2="436.5" class="ax"/>
<line x1="428.10" y1="436.5" x2="428.10" y2="438.3" class="sep"/>
<line x1="478.77" y1="436.5" x2="478.77" y2="438.3" class="sep"/>
<line x1="402.50" y1="349.30" x2="402.50" y2="391.90" class="ws"/>
<line x1="396.42" y1="349.30" x2="408.88" y2="349.30" class="cap"/>
<line x1="402.50" y1="411.90" x2="402.50" y2="421.00" class="ws"/>
<line x1="396.42" y1="421.00" x2="408.88" y2="421.00" class="cap"/>
<rect x="390.45" y="392.15" width="24.40" height="19.50" fill="#615aa2" stroke="#554d9c" class="bx"/>
<line x1="390.50" y1="404.60" x2="414.80" y2="404.60" stroke="#261f5e" class="md"/>
<line x1="453.50" y1="376.30" x2="453.50" y2="403.90" class="ws"/>
<line x1="447.33" y1="376.30" x2="459.77" y2="376.30" class="cap"/>
<line x1="453.50" y1="417.90" x2="453.50" y2="423.90" class="ws"/>
<line x1="447.33" y1="423.90" x2="459.77" y2="423.90" class="cap"/>
<rect x="441.35" y="404.15" width="24.40" height="13.50" fill="#e8402e" stroke="#d8382a" class="bx"/>
<line x1="441.40" y1="412.90" x2="465.70" y2="412.90" stroke="#6a140c" class="md"/>
<line x1="504.50" y1="388.30" x2="504.50" y2="409.30" class="ws"/>
<line x1="497.70" y1="388.30" x2="510.30" y2="388.30" class="cap"/>
<line x1="504.50" y1="420.70" x2="504.50" y2="423.90" class="ws"/>
<line x1="497.70" y1="423.90" x2="510.30" y2="423.90" class="cap"/>
<rect x="491.65" y="409.55" width="24.70" height="10.90" fill="#f5903a" stroke="#e88430" class="bx"/>
<line x1="491.70" y1="416.10" x2="516.30" y2="416.10" stroke="#4a2508" class="md"/>
<text x="402.65" y="442.40" class="xl" style="font-size:3.3px">Normal</text>
<text x="402.65" y="447.30" class="xl" style="font-size:3.3px">(n=52)</text>
<text x="453.55" y="442.40" class="xl" style="font-size:3.3px">N0</text>
<text x="453.55" y="447.30" class="xl" style="font-size:3.3px">(n=345)</text>
<text x="504.00" y="442.40" class="xl" style="font-size:3.3px">N1</text>
<text x="504.00" y="447.30" class="xl" style="font-size:3.3px">(n=79)</text>
<text transform="translate(364.2,387.5) rotate(-90)" x="0" y="0" class="yn" style="font-size:3.8px" textLength="39" lengthAdjust="spacingAndGlyphs">Transcript per million</text></g>
<g class="lite"><text x="21.9" y="469.6" class="tm" style="font-size:6.8px" textLength="134.3" lengthAdjust="spacingAndGlyphs">Expression of AKT1 in PRAD based on Sample types</text>
<line x1="21.5" y1="478.0" x2="21.5" y2="578.0" class="ax"/>
<line x1="18.9" y1="478.0" x2="21.5" y2="478.0" class="tk"/>
<text transform="translate(17.50,479.75) scale(0.82 1)" class="tl" style="font-size:4.8px">300</text>
<line x1="18.9" y1="497.86" x2="21.5" y2="497.86" class="tk"/>
<text transform="translate(17.50,499.61) scale(0.82 1)" class="tl" style="font-size:4.8px">250</text>
<line x1="18.9" y1="517.72" x2="21.5" y2="517.72" class="tk"/>
<text transform="translate(17.50,519.47) scale(0.82 1)" class="tl" style="font-size:4.8px">200</text>
<line x1="18.9" y1="537.58" x2="21.5" y2="537.58" class="tk"/>
<text transform="translate(17.50,539.33) scale(0.82 1)" class="tl" style="font-size:4.8px">150</text>
<line x1="18.9" y1="557.44" x2="21.5" y2="557.44" class="tk"/>
<text transform="translate(17.50,559.19) scale(0.82 1)" class="tl" style="font-size:4.8px">100</text>
<line x1="18.9" y1="577.3" x2="21.5" y2="577.3" class="tk"/>
<text transform="translate(17.50,579.05) scale(0.82 1)" class="tl" style="font-size:4.8px">50</text>
<line x1="21.0" y1="577.5" x2="159" y2="577.5" class="ax"/>
<line x1="98.90" y1="577.5" x2="98.90" y2="579.3" class="sep"/>
<line x1="60.50" y1="507.90" x2="60.50" y2="519.60" class="ws"/>
<line x1="50.83" y1="507.90" x2="69.67" y2="507.90" class="cap"/>
<line x1="60.50" y1="535.50" x2="60.50" y2="562.10" class="ws"/>
<line x1="50.83" y1="562.10" x2="69.67" y2="562.10" class="cap"/>
<rect x="41.65" y="519.85" width="37.20" height="15.40" fill="#615aa2" stroke="#554d9c" class="bx"/>
<line x1="41.70" y1="527.70" x2="78.80" y2="527.70" stroke="#261f5e" class="md"/>
<line x1="137.50" y1="486.60" x2="137.50" y2="516.40" class="ws"/>
<line x1="128.33" y1="486.60" x2="146.78" y2="486.60" class="cap"/>
<line x1="137.50" y1="536.50" x2="137.50" y2="564.00" class="ws"/>
<line x1="128.33" y1="564.00" x2="146.78" y2="564.00" class="cap"/>
<rect x="119.35" y="516.65" width="36.40" height="19.60" fill="#e8402e" stroke="#d8382a" class="bx"/>
<line x1="119.40" y1="526.60" x2="155.70" y2="526.60" stroke="#6a140c" class="md"/>
<text x="60.25" y="583.60" class="xl" style="font-size:3.6px">Normal</text>
<text x="60.25" y="587.90" class="xl" style="font-size:3.6px">(n=52)</text>
<text x="137.55" y="583.60" class="xl" style="font-size:3.6px">Primary tumor</text>
<text x="137.55" y="587.90" class="xl" style="font-size:3.6px">(n=497)</text>
<text transform="translate(7.4,527.9) rotate(-90)" x="0" y="0" class="yb" style="font-size:4.5px" textLength="45.5" lengthAdjust="spacingAndGlyphs">Transcript per million</text></g>
<g class=""><text x="184.6" y="470.7" class="tt" style="font-size:6.8px" textLength="147.7" lengthAdjust="spacingAndGlyphs">Expression of AKT1 in PRAD based on patient's gleason</text>
<text x="251.5" y="477" class="tt" style="font-size:6.8px" textLength="14.1" lengthAdjust="spacingAndGlyphs">score</text>
<line x1="187.5" y1="486.4" x2="187.5" y2="577.0" class="ax"/>
<line x1="184.9" y1="486.4" x2="187.5" y2="486.4" class="tk"/>
<text transform="translate(183.50,488.15) scale(0.82 1)" class="tl" style="font-size:5.0px">350</text>
<line x1="184.9" y1="501.5" x2="187.5" y2="501.5" class="tk"/>
<text transform="translate(183.50,503.25) scale(0.82 1)" class="tl" style="font-size:5.0px">300</text>
<line x1="184.9" y1="516.6" x2="187.5" y2="516.6" class="tk"/>
<text transform="translate(183.50,518.35) scale(0.82 1)" class="tl" style="font-size:5.0px">250</text>
<line x1="184.9" y1="531.7" x2="187.5" y2="531.7" class="tk"/>
<text transform="translate(183.50,533.45) scale(0.82 1)" class="tl" style="font-size:5.0px">200</text>
<line x1="184.9" y1="546.8" x2="187.5" y2="546.8" class="tk"/>
<text transform="translate(183.50,548.55) scale(0.82 1)" class="tl" style="font-size:5.0px">150</text>
<line x1="184.9" y1="561.9" x2="187.5" y2="561.9" class="tk"/>
<text transform="translate(183.50,563.65) scale(0.82 1)" class="tl" style="font-size:5.0px">100</text>
<line x1="184.9" y1="577.0" x2="187.5" y2="577.0" class="tk"/>
<text transform="translate(183.50,578.75) scale(0.82 1)" class="tl" style="font-size:5.0px">50</text>
<line x1="187.0" y1="576.5" x2="346" y2="576.5" class="ax"/>
<line x1="215.80" y1="576.5" x2="215.80" y2="578.3" class="sep"/>
<line x1="242.05" y1="576.5" x2="242.05" y2="578.3" class="sep"/>
<line x1="268.55" y1="576.5" x2="268.55" y2="578.3" class="sep"/>
<line x1="295.00" y1="576.5" x2="295.00" y2="578.3" class="sep"/>
<line x1="321.33" y1="576.5" x2="321.33" y2="578.3" class="sep"/>
<line x1="202.50" y1="524.00" x2="202.50" y2="533.10" class="wh"/>
<line x1="199.48" y1="524.00" x2="205.82" y2="524.00" class="cap"/>
<line x1="202.50" y1="545.20" x2="202.50" y2="565.10" class="wh"/>
<line x1="199.48" y1="565.10" x2="205.82" y2="565.10" class="cap"/>
<rect x="196.55" y="533.35" width="12.20" height="11.60" fill="#615aa2" stroke="#554d9c" class="bx"/>
<line x1="196.60" y1="539.20" x2="208.70" y2="539.20" stroke="#261f5e" class="md"/>
<line x1="228.50" y1="517.60" x2="228.50" y2="532.10" class="wh"/>
<line x1="225.57" y1="517.60" x2="232.32" y2="517.60" class="cap"/>
<line x1="228.50" y1="544.20" x2="228.50" y2="562.70" class="wh"/>
<line x1="225.57" y1="562.70" x2="232.32" y2="562.70" class="cap"/>
<rect x="222.45" y="532.35" width="13.00" height="11.60" fill="#f5903a" stroke="#e88430" class="bx"/>
<line x1="222.50" y1="537.50" x2="235.40" y2="537.50" stroke="#4a2508" class="md"/>
<line x1="255.50" y1="508.90" x2="255.50" y2="531.10" class="wh"/>
<line x1="251.77" y1="508.90" x2="258.52" y2="508.90" class="cap"/>
<line x1="255.50" y1="545.90" x2="255.50" y2="568.80" class="wh"/>
<line x1="251.77" y1="568.80" x2="258.52" y2="568.80" class="cap"/>
<rect x="248.65" y="531.35" width="13.00" height="14.30" fill="#b0d33a" stroke="#a2c430" class="bx"/>
<line x1="248.70" y1="537.80" x2="261.60" y2="537.80" stroke="#2c3a08" class="md"/>
<line x1="281.50" y1="499.40" x2="281.50" y2="526.40" class="wh"/>
<line x1="278.67" y1="499.40" x2="285.23" y2="499.40" class="cap"/>
<line x1="281.50" y1="544.20" x2="281.50" y2="570.50" class="wh"/>
<line x1="278.67" y1="570.50" x2="285.23" y2="570.50" class="cap"/>
<rect x="275.65" y="526.65" width="12.60" height="17.30" fill="#c77835" stroke="#b86c2c" class="bx"/>
<line x1="275.70" y1="536.50" x2="288.20" y2="536.50" stroke="#3a1c08" class="md"/>
<line x1="308.50" y1="503.10" x2="308.50" y2="529.70" class="wh"/>
<line x1="304.68" y1="503.10" x2="311.43" y2="503.10" class="cap"/>
<line x1="308.50" y1="545.90" x2="308.50" y2="560.40" class="wh"/>
<line x1="304.68" y1="560.40" x2="311.43" y2="560.40" class="cap"/>
<rect x="301.55" y="529.95" width="13.00" height="15.70" fill="#d64aa4" stroke="#c8409a" class="bx"/>
<line x1="301.60" y1="538.50" x2="314.50" y2="538.50" stroke="#4a1034" class="md"/>
<line x1="334.50" y1="540.50" x2="334.50" y2="542.20" class="wh"/>
<line x1="331.40" y1="540.50" x2="337.80" y2="540.50" class="cap"/>
<line x1="334.50" y1="545.90" x2="334.50" y2="547.90" class="wh"/>
<line x1="331.40" y1="547.90" x2="337.80" y2="547.90" class="cap"/>
<rect x="328.45" y="542.45" width="12.30" height="3.20" fill="#d6322a" stroke="#c82c24" class="bx"/>
<line x1="328.50" y1="543.90" x2="340.70" y2="543.90" stroke="#4a0a08" class="md"/>
<text x="202.65" y="582.30" class="xl" style="font-size:3.6px">Normal</text>
<text x="202.65" y="586.90" class="xl" style="font-size:3.6px">(n=52)</text>
<text x="228.95" y="582.30" class="xl" style="font-size:3.6px">Gleason score</text>
<text x="228.95" y="586.90" class="xl" style="font-size:3.6px">6</text>
<text x="228.95" y="591.20" class="xl" style="font-size:3.6px">(n=45)</text>
<text x="255.15" y="582.30" class="xl" style="font-size:3.6px">Gleason score</text>
<text x="255.15" y="586.90" class="xl" style="font-size:3.6px">7</text>
<text x="255.15" y="591.20" class="xl" style="font-size:3.6px">(n=247)</text>
<text x="281.95" y="582.30" class="xl" style="font-size:3.6px">Gleason score</text>
<text x="281.95" y="586.90" class="xl" style="font-size:3.6px">8</text>
<text x="281.95" y="591.20" class="xl" style="font-size:3.6px">(n=64)</text>
<text x="308.05" y="582.30" class="xl" style="font-size:3.6px">Gleason score</text>
<text x="308.05" y="586.90" class="xl" style="font-size:3.6px">9</text>
<text x="308.05" y="591.20" class="xl" style="font-size:3.6px">(n=136)</text>
<text x="334.60" y="582.30" class="xl" style="font-size:3.6px">Gleason score</text>
<text x="334.60" y="586.90" class="xl" style="font-size:3.6px">10</text>
<text x="334.60" y="591.20" class="xl" style="font-size:3.6px">(n=4)</text>
<text transform="translate(173.9,531.8) rotate(-90)" x="0" y="0" class="yb" style="font-size:4.6px" textLength="46.1" lengthAdjust="spacingAndGlyphs">Transcript per million</text></g>
<g class=""><text x="375.4" y="469.8" class="tn" style="font-size:6.0px" textLength="136.0" lengthAdjust="spacingAndGlyphs">Expression of AKT1 in PRAD based on nodal metastasis</text>
<text x="436" y="476.4" class="tn" style="font-size:6.0px" textLength="14.9" lengthAdjust="spacingAndGlyphs">status</text>
<line x1="378.5" y1="484.7" x2="378.5" y2="578.0" class="ax"/>
<line x1="375.9" y1="484.7" x2="378.5" y2="484.7" class="tk"/>
<text transform="translate(374.50,486.45) scale(0.82 1)" class="tl" style="font-size:4.3px">350</text>
<line x1="375.9" y1="500.2" x2="378.5" y2="500.2" class="tk"/>
<text transform="translate(374.50,501.95) scale(0.82 1)" class="tl" style="font-size:4.3px">300</text>
<line x1="375.9" y1="515.7" x2="378.5" y2="515.7" class="tk"/>
<text transform="translate(374.50,517.45) scale(0.82 1)" class="tl" style="font-size:4.3px">250</text>
<line x1="375.9" y1="531.2" x2="378.5" y2="531.2" class="tk"/>
<text transform="translate(374.50,532.95) scale(0.82 1)" class="tl" style="font-size:4.3px">200</text>
<line x1="375.9" y1="546.7" x2="378.5" y2="546.7" class="tk"/>
<text transform="translate(374.50,548.45) scale(0.82 1)" class="tl" style="font-size:4.3px">150</text>
<line x1="375.9" y1="562.2" x2="378.5" y2="562.2" class="tk"/>
<text transform="translate(374.50,563.95) scale(0.82 1)" class="tl" style="font-size:4.3px">100</text>
<line x1="375.9" y1="577.7" x2="378.5" y2="577.7" class="tk"/>
<text transform="translate(374.50,579.45) scale(0.82 1)" class="tl" style="font-size:4.3px">50</text>
<line x1="378.0" y1="577.5" x2="517" y2="577.5" class="ax"/>
<line x1="427.45" y1="577.5" x2="427.45" y2="579.3" class="sep"/>
<line x1="476.30" y1="577.5" x2="476.30" y2="579.3" class="sep"/>
<line x1="403.50" y1="523.70" x2="403.50" y2="532.60" class="ws"/>
<line x1="397.10" y1="523.70" x2="409.30" y2="523.70" class="cap"/>
<line x1="403.50" y1="545.60" x2="403.50" y2="565.80" class="ws"/>
<line x1="397.10" y1="565.80" x2="409.30" y2="565.80" class="cap"/>
<rect x="391.25" y="532.85" width="23.90" height="12.50" fill="#615aa2" stroke="#554d9c" class="bx"/>
<line x1="391.30" y1="539.10" x2="415.10" y2="539.10" stroke="#261f5e" class="md"/>
<line x1="451.50" y1="507.10" x2="451.50" y2="530.20" class="ws"/>
<line x1="445.60" y1="507.10" x2="457.80" y2="507.10" class="cap"/>
<line x1="451.50" y1="546.10" x2="451.50" y2="569.40" class="ws"/>
<line x1="445.60" y1="569.40" x2="457.80" y2="569.40" class="cap"/>
<rect x="439.75" y="530.45" width="23.90" height="15.40" fill="#e8402e" stroke="#d8382a" class="bx"/>
<line x1="439.80" y1="538.00" x2="463.60" y2="538.00" stroke="#6a140c" class="md"/>
<line x1="500.50" y1="499.10" x2="500.50" y2="526.60" class="ws"/>
<line x1="494.85" y1="499.10" x2="506.95" y2="499.10" class="cap"/>
<line x1="500.50" y1="544.50" x2="500.50" y2="567.40" class="ws"/>
<line x1="494.85" y1="567.40" x2="506.95" y2="567.40" class="cap"/>
<rect x="489.05" y="526.85" width="23.70" height="17.40" fill="#f5903a" stroke="#e88430" class="bx"/>
<line x1="489.10" y1="537.00" x2="512.70" y2="537.00" stroke="#4a2508" class="md"/>
<text x="403.20" y="583.50" class="xl" style="font-size:3.3px">Normal</text>
<text x="403.20" y="588.50" class="xl" style="font-size:3.3px">(n=52)</text>
<text x="451.70" y="583.50" class="xl" style="font-size:3.3px">N0</text>
<text x="451.70" y="588.50" class="xl" style="font-size:3.3px">(n=345)</text>
<text x="500.90" y="583.50" class="xl" style="font-size:3.3px">N1</text>
<text x="500.90" y="588.50" class="xl" style="font-size:3.3px">(n=79)</text>
<text transform="translate(365.8,531.9) rotate(-90)" x="0" y="0" class="yn" style="font-size:3.8px" textLength="39.3" lengthAdjust="spacingAndGlyphs">Transcript per million</text></g>
<g class="lite2"><text x="23.5" y="612.8" class="tt" style="font-size:6.8px" textLength="131.2" lengthAdjust="spacingAndGlyphs">Expression of CASP3 in PRAD based on Sample types</text>
<line x1="21.5" y1="621.9" x2="21.5" y2="718.0" class="ax"/>
<line x1="18.9" y1="621.9" x2="21.5" y2="621.9" class="tk"/>
<text transform="translate(17.50,623.65) scale(0.82 1)" class="tl" style="font-size:5.0px">30</text>
<line x1="18.9" y1="637.85" x2="21.5" y2="637.85" class="tk"/>
<text transform="translate(17.50,639.60) scale(0.82 1)" class="tl" style="font-size:5.0px">25</text>
<line x1="18.9" y1="653.8" x2="21.5" y2="653.8" class="tk"/>
<text transform="translate(17.50,655.55) scale(0.82 1)" class="tl" style="font-size:5.0px">20</text>
<line x1="18.9" y1="669.75" x2="21.5" y2="669.75" class="tk"/>
<text transform="translate(17.50,671.50) scale(0.82 1)" class="tl" style="font-size:5.0px">15</text>
<line x1="18.9" y1="685.7" x2="21.5" y2="685.7" class="tk"/>
<text transform="translate(17.50,687.45) scale(0.82 1)" class="tl" style="font-size:5.0px">10</text>
<line x1="18.9" y1="701.65" x2="21.5" y2="701.65" class="tk"/>
<text transform="translate(17.50,703.40) scale(0.82 1)" class="tl" style="font-size:5.0px">5</text>
<line x1="18.9" y1="717.6" x2="21.5" y2="717.6" class="tk"/>
<text transform="translate(17.50,719.35) scale(0.82 1)" class="tl" style="font-size:5.0px">0</text>
<line x1="21.0" y1="717.5" x2="156.6" y2="717.5" class="ax"/>
<line x1="97.22" y1="717.5" x2="97.22" y2="719.3" class="sep"/>
<line x1="59.50" y1="644.50" x2="59.50" y2="664.00" class="wh"/>
<line x1="50.35" y1="644.50" x2="68.85" y2="644.50" class="cap"/>
<line x1="59.50" y1="678.80" x2="59.50" y2="688.60" class="wh"/>
<line x1="50.35" y1="688.60" x2="68.85" y2="688.60" class="cap"/>
<rect x="41.35" y="664.25" width="36.50" height="14.30" fill="#615aa2" stroke="#554d9c" class="bx"/>
<line x1="41.40" y1="671.80" x2="77.80" y2="671.80" stroke="#261f5e" class="md"/>
<line x1="134.50" y1="629.70" x2="134.50" y2="661.60" class="wh"/>
<line x1="125.72" y1="629.70" x2="143.97" y2="629.70" class="cap"/>
<line x1="134.50" y1="681.70" x2="134.50" y2="706.30" class="wh"/>
<line x1="125.72" y1="706.30" x2="143.97" y2="706.30" class="cap"/>
<rect x="116.85" y="661.85" width="36.00" height="19.60" fill="#e8402e" stroke="#d8382a" class="bx"/>
<line x1="116.90" y1="672.40" x2="152.80" y2="672.40" stroke="#6a140c" class="md"/>
<text x="59.60" y="723.70" class="xl" style="font-size:3.6px">Normal</text>
<text x="59.60" y="727.60" class="xl" style="font-size:3.6px">(n=52)</text>
<text x="134.85" y="723.70" class="xl" style="font-size:3.6px">Primary tumor</text>
<text x="134.85" y="727.60" class="xl" style="font-size:3.6px">(n=497)</text>
<text transform="translate(10.4,669.6) rotate(-90)" x="0" y="0" class="yb" style="font-size:4.5px" textLength="44.2" lengthAdjust="spacingAndGlyphs">Transcript per million</text></g>
<g class=""><text x="185.9" y="613.8" class="tt" style="font-size:6.8px" textLength="157.3" lengthAdjust="spacingAndGlyphs">Expression of CASP3 in PRAD based on patient's gleason</text>
<text x="255.8" y="620" class="tt" style="font-size:6.8px" textLength="14.5" lengthAdjust="spacingAndGlyphs">score</text>
<line x1="189.5" y1="628.8" x2="189.5" y2="717.0" class="ax"/>
<line x1="186.9" y1="628.8" x2="189.5" y2="628.8" class="tk"/>
<text transform="translate(185.50,630.55) scale(0.82 1)" class="tl" style="font-size:5.0px">35</text>
<line x1="186.9" y1="641.41" x2="189.5" y2="641.41" class="tk"/>
<text transform="translate(185.50,643.16) scale(0.82 1)" class="tl" style="font-size:5.0px">30</text>
<line x1="186.9" y1="654.03" x2="189.5" y2="654.03" class="tk"/>
<text transform="translate(185.50,655.78) scale(0.82 1)" class="tl" style="font-size:5.0px">25</text>
<line x1="186.9" y1="666.64" x2="189.5" y2="666.64" class="tk"/>
<text transform="translate(185.50,668.39) scale(0.82 1)" class="tl" style="font-size:5.0px">20</text>
<line x1="186.9" y1="679.26" x2="189.5" y2="679.26" class="tk"/>
<text transform="translate(185.50,681.01) scale(0.82 1)" class="tl" style="font-size:5.0px">15</text>
<line x1="186.9" y1="691.87" x2="189.5" y2="691.87" class="tk"/>
<text transform="translate(185.50,693.62) scale(0.82 1)" class="tl" style="font-size:5.0px">10</text>
<line x1="186.9" y1="704.49" x2="189.5" y2="704.49" class="tk"/>
<text transform="translate(185.50,706.24) scale(0.82 1)" class="tl" style="font-size:5.0px">5</text>
<line x1="186.9" y1="717.1" x2="189.5" y2="717.1" class="tk"/>
<text transform="translate(185.50,718.85) scale(0.82 1)" class="tl" style="font-size:5.0px">0</text>
<line x1="189.0" y1="716.5" x2="353" y2="716.5" class="ax"/>
<line x1="217.62" y1="716.5" x2="217.62" y2="718.3" class="sep"/>
<line x1="245.58" y1="716.5" x2="245.58" y2="718.3" class="sep"/>
<line x1="273.70" y1="716.5" x2="273.70" y2="718.3" class="sep"/>
<line x1="301.80" y1="716.5" x2="301.80" y2="718.3" class="sep"/>
<line x1="329.77" y1="716.5" x2="329.77" y2="718.3" class="sep"/>
<line x1="203.50" y1="659.30" x2="203.50" y2="675.10" class="wh"/>
<line x1="200.28" y1="659.30" x2="207.03" y2="659.30" class="cap"/>
<line x1="203.50" y1="686.60" x2="203.50" y2="694.30" class="wh"/>
<line x1="200.28" y1="694.30" x2="207.03" y2="694.30" class="cap"/>
<rect x="197.15" y="675.35" width="13.00" height="11.00" fill="#615aa2" stroke="#554d9c" class="bx"/>
<line x1="197.20" y1="680.20" x2="210.10" y2="680.20" stroke="#261f5e" class="md"/>
<line x1="231.50" y1="669.40" x2="231.50" y2="681.90" class="wh"/>
<line x1="228.25" y1="669.40" x2="234.95" y2="669.40" class="cap"/>
<line x1="231.50" y1="688.60" x2="231.50" y2="701.10" class="wh"/>
<line x1="228.25" y1="701.10" x2="234.95" y2="701.10" class="cap"/>
<rect x="225.15" y="682.15" width="12.90" height="6.20" fill="#f5903a" stroke="#e88430" class="bx"/>
<line x1="225.20" y1="685.20" x2="238.00" y2="685.20" stroke="#4a2508" class="md"/>
<line x1="259.50" y1="653.20" x2="259.50" y2="675.10" class="wh"/>
<line x1="256.02" y1="653.20" x2="263.08" y2="653.20" class="cap"/>
<line x1="259.50" y1="689.60" x2="259.50" y2="707.80" class="wh"/>
<line x1="256.02" y1="707.80" x2="263.08" y2="707.80" class="cap"/>
<rect x="252.75" y="675.35" width="13.60" height="14.00" fill="#b0d33a" stroke="#a2c430" class="bx"/>
<line x1="252.80" y1="683.20" x2="266.30" y2="683.20" stroke="#2c3a08" class="md"/>
<line x1="287.50" y1="642.50" x2="287.50" y2="670.40" class="wh"/>
<line x1="284.48" y1="642.50" x2="291.23" y2="642.50" class="cap"/>
<line x1="287.50" y1="688.30" x2="287.50" y2="707.80" class="wh"/>
<line x1="284.48" y1="707.80" x2="291.23" y2="707.80" class="cap"/>
<rect x="281.35" y="670.65" width="13.00" height="17.40" fill="#c77835" stroke="#b86c2c" class="bx"/>
<line x1="281.40" y1="679.20" x2="294.30" y2="679.20" stroke="#3a1c08" class="md"/>
<line x1="315.50" y1="643.10" x2="315.50" y2="667.70" class="wh"/>
<line x1="312.38" y1="643.10" x2="319.12" y2="643.10" class="cap"/>
<line x1="315.50" y1="684.60" x2="315.50" y2="703.80" class="wh"/>
<line x1="312.38" y1="703.80" x2="319.12" y2="703.80" class="cap"/>
<rect x="309.25" y="667.95" width="13.00" height="16.40" fill="#d64aa4" stroke="#c8409a" class="bx"/>
<line x1="309.30" y1="677.20" x2="322.20" y2="677.20" stroke="#4a1034" class="md"/>
<line x1="343.50" y1="650.00" x2="343.50" y2="657.60" class="wh"/>
<line x1="340.30" y1="650.00" x2="347.30" y2="650.00" class="cap"/>
<line x1="343.50" y1="688.90" x2="343.50" y2="690.20" class="wh"/>
<line x1="340.30" y1="690.20" x2="347.30" y2="690.20" class="cap"/>
<rect x="337.05" y="657.85" width="13.50" height="30.80" fill="#d6322a" stroke="#c82c24" class="bx"/>
<line x1="337.10" y1="674.10" x2="350.50" y2="674.10" stroke="#4a0a08" class="md"/>
<text x="203.65" y="722.30" class="xl" style="font-size:3.6px">Normal</text>
<text x="203.65" y="726.30" class="xl" style="font-size:3.6px">(n=52)</text>
<text x="231.60" y="722.30" class="xl" style="font-size:3.6px">Gleason score</text>
<text x="231.60" y="726.30" class="xl" style="font-size:3.6px">6</text>
<text x="231.60" y="730.80" class="xl" style="font-size:3.6px">(n=45)</text>
<text x="259.55" y="722.30" class="xl" style="font-size:3.6px">Gleason score</text>
<text x="259.55" y="726.30" class="xl" style="font-size:3.6px">7</text>
<text x="259.55" y="730.80" class="xl" style="font-size:3.6px">(n=247)</text>
<text x="287.85" y="722.30" class="xl" style="font-size:3.6px">Gleason score</text>
<text x="287.85" y="726.30" class="xl" style="font-size:3.6px">8</text>
<text x="287.85" y="730.80" class="xl" style="font-size:3.6px">(n=64)</text>
<text x="315.75" y="722.30" class="xl" style="font-size:3.6px">Gleason score</text>
<text x="315.75" y="726.30" class="xl" style="font-size:3.6px">9</text>
<text x="315.75" y="730.80" class="xl" style="font-size:3.6px">(n=136)</text>
<text x="343.80" y="722.30" class="xl" style="font-size:3.6px">Gleason score</text>
<text x="343.80" y="726.30" class="xl" style="font-size:3.6px">10</text>
<text x="343.80" y="730.80" class="xl" style="font-size:3.6px">(n=4)</text>
<text transform="translate(177.3,672.9) rotate(-90)" x="0" y="0" class="yb" style="font-size:4.6px" textLength="45.7" lengthAdjust="spacingAndGlyphs">Transcript per million</text></g>
<g class=""><text x="373.9" y="613.4" class="tn" style="font-size:6.0px" textLength="139.6" lengthAdjust="spacingAndGlyphs">Expression of CASP3 in PRAD based on nodal metastasis</text>
<text x="436.5" y="619.4" class="tn" style="font-size:6.0px" textLength="14.7" lengthAdjust="spacingAndGlyphs">status</text>
<line x1="376.5" y1="628.1" x2="376.5" y2="717.0" class="ax"/>
<line x1="373.9" y1="628.1" x2="376.5" y2="628.1" class="tk"/>
<text transform="translate(372.50,629.85) scale(0.82 1)" class="tl" style="font-size:4.3px">35</text>
<line x1="373.9" y1="640.69" x2="376.5" y2="640.69" class="tk"/>
<text transform="translate(372.50,642.44) scale(0.82 1)" class="tl" style="font-size:4.3px">30</text>
<line x1="373.9" y1="653.27" x2="376.5" y2="653.27" class="tk"/>
<text transform="translate(372.50,655.02) scale(0.82 1)" class="tl" style="font-size:4.3px">25</text>
<line x1="373.9" y1="665.86" x2="376.5" y2="665.86" class="tk"/>
<text transform="translate(372.50,667.61) scale(0.82 1)" class="tl" style="font-size:4.3px">20</text>
<line x1="373.9" y1="678.44" x2="376.5" y2="678.44" class="tk"/>
<text transform="translate(372.50,680.19) scale(0.82 1)" class="tl" style="font-size:4.3px">15</text>
<line x1="373.9" y1="691.03" x2="376.5" y2="691.03" class="tk"/>
<text transform="translate(372.50,692.78) scale(0.82 1)" class="tl" style="font-size:4.3px">10</text>
<line x1="373.9" y1="703.61" x2="376.5" y2="703.61" class="tk"/>
<text transform="translate(372.50,705.36) scale(0.82 1)" class="tl" style="font-size:4.3px">5</text>
<line x1="373.9" y1="716.2" x2="376.5" y2="716.2" class="tk"/>
<text transform="translate(372.50,717.95) scale(0.82 1)" class="tl" style="font-size:4.3px">0</text>
<line x1="376.0" y1="716.5" x2="515.7" y2="716.5" class="ax"/>
<line x1="426.30" y1="716.5" x2="426.30" y2="718.3" class="sep"/>
<line x1="476.32" y1="716.5" x2="476.32" y2="718.3" class="sep"/>
<line x1="401.50" y1="659.10" x2="401.50" y2="674.10" class="ws"/>
<line x1="395.07" y1="659.10" x2="407.43" y2="659.10" class="cap"/>
<line x1="401.50" y1="686.10" x2="401.50" y2="693.30" class="ws"/>
<line x1="395.07" y1="693.30" x2="407.43" y2="693.30" class="cap"/>
<rect x="389.15" y="674.35" width="24.20" height="11.50" fill="#615aa2" stroke="#554d9c" class="bx"/>
<line x1="389.20" y1="679.80" x2="413.30" y2="679.80" stroke="#261f5e" class="md"/>
<line x1="451.50" y1="652.10" x2="451.50" y2="672.80" class="ws"/>
<line x1="445.18" y1="652.10" x2="457.53" y2="652.10" class="cap"/>
<line x1="451.50" y1="688.40" x2="451.50" y2="707.40" class="ws"/>
<line x1="445.18" y1="707.40" x2="457.53" y2="707.40" class="cap"/>
<rect x="439.25" y="673.05" width="24.20" height="15.10" fill="#e8402e" stroke="#d8382a" class="bx"/>
<line x1="439.30" y1="680.60" x2="463.40" y2="680.60" stroke="#6a140c" class="md"/>
<line x1="501.50" y1="640.40" x2="501.50" y2="664.00" class="ws"/>
<line x1="495.05" y1="640.40" x2="507.55" y2="640.40" class="cap"/>
<line x1="501.50" y1="681.40" x2="501.50" y2="703.00" class="ws"/>
<line x1="495.05" y1="703.00" x2="507.55" y2="703.00" class="cap"/>
<rect x="489.05" y="664.25" width="24.50" height="16.90" fill="#f5903a" stroke="#e88430" class="bx"/>
<line x1="489.10" y1="674.70" x2="513.50" y2="674.70" stroke="#4a2508" class="md"/>
<text x="401.25" y="721.70" class="xl" style="font-size:3.3px">Normal</text>
<text x="401.25" y="726.60" class="xl" style="font-size:3.3px">(n=52)</text>
<text x="451.35" y="721.70" class="xl" style="font-size:3.3px">N0</text>
<text x="451.35" y="726.60" class="xl" style="font-size:3.3px">(n=345)</text>
<text x="501.30" y="721.70" class="xl" style="font-size:3.3px">N1</text>
<text x="501.30" y="726.60" class="xl" style="font-size:3.3px">(n=79)</text>
<text transform="translate(364.7,672.5) rotate(-90)" x="0" y="0" class="yn" style="font-size:3.6px" textLength="36.8" lengthAdjust="spacingAndGlyphs">Transcript per million</text></g>
</svg></div></body></html>
